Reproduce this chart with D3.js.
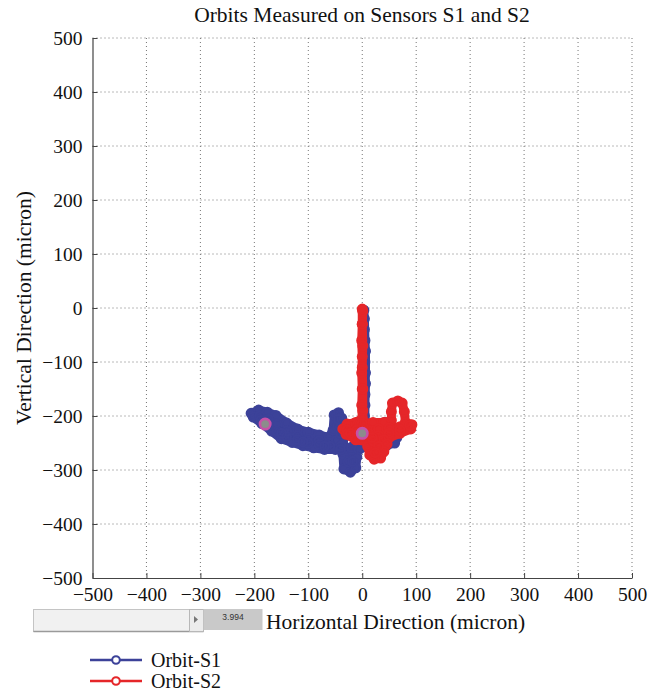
<!DOCTYPE html>
<html>
<head>
<meta charset="utf-8">
<script src="https://cdn.jsdelivr.net/npm/d3@7/dist/d3.min.js"></script>
<style>
  html, body { margin: 0; padding: 0; background: #ffffff; }
  svg { display: block; }
</style>
</head>
<body>
<svg id="chart" width="659" height="692"></svg>
<script>
// Axis settings
const xDomain = [-500, 500];
const yDomain = [-500, 500];
const tickValues = [-500, -400, -300, -200, -100, 0, 100, 200, 300, 400, 500];

// Orbit traced by sensor S1 (horizontal, vertical in micron)
const orbitS1 = [
  [-206,-195],[-192,-189],[-176,-193],[-160,-199],[-140,-213],[-120,-224],[-100,-230],
  [-80,-235],[-62,-240],[-54,-226],[-52,-198],[-44,-194],[-38,-204],[-34,-232],
  [-36,-270],[-34,-298],[-22,-304],[-12,-296],[-10,-276],[-28,-264],[-50,-262],
  [-70,-262],[-90,-259],[-110,-255],[-130,-249],[-150,-242],[-168,-228],[-186,-214],
  [-202,-202],[-190,-200],[-174,-206],[-158,-216],[-140,-228],[-120,-236],[-100,-242],
  [-80,-246],[-62,-250],[-48,-246],[-46,-220],[-44,-206],[-40,-232],[-36,-252],
  [-26,-285],[-18,-284],[-20,-262],[-40,-256],[-60,-256],[-80,-253],[-100,-250],
  [-120,-244],[-140,-238],[-158,-228],[-174,-218],[-188,-208],[-150,-232],[-110,-248],
  [-70,-256],[-40,-262],[-20,-258],[-6,-262],[8,-256],[20,-264],[32,-262],[46,-254],
  [60,-250],[64,-240],[52,-232],[42,-212],[36,-230],[20,-244],[8,-240],[5,-214],
  [5,-180],[6,-140],[5,-100],[5,-60],[4,-20],[3,-4],[4,-40],[6,-80],[6,-120],
  [5,-160],[4,-200],[0,-232]
];

// Orbit traced by sensor S2 (horizontal, vertical in micron)
const orbitS2 = [
  [0,-2],[0,-30],[-1,-60],[0,-90],[-1,-120],[0,-150],[-1,-180],[0,-205],
  [-12,-212],[-28,-215],[-36,-224],[-30,-234],[-12,-244],[10,-248],[30,-246],
  [50,-240],[70,-232],[90,-224],[92,-216],[80,-212],[78,-192],[74,-176],[66,-172],
  [56,-176],[54,-192],[54,-208],[40,-212],[20,-212],[0,-214],[-20,-216],[-28,-226],
  [-10,-226],[10,-226],[30,-224],[50,-222],[70,-220],[88,-218],[70,-226],[50,-232],
  [30,-236],[10,-236],[-10,-236],[-22,-232],[0,-242],[20,-242],[40,-244],[46,-252],
  [40,-266],[34,-278],[22,-280],[14,-272],[10,-256],[20,-246],[30,-256],[24,-268],
  [18,-240],[2,-222],[1,-190],[1,-150],[0,-110],[1,-70],[0,-30],[1,-6]
];

// Current-position markers for each sensor
const currentPos = [[-180,-215],[0,-232]];

// Legend entries
const seriesNames = ["Orbit-S1", "Orbit-S2"];
const seriesColors = ["#3c4299", "#e52629"];

const sliderValue = "3.994";

const svg = d3.select("#chart");
const serif = "'Liberation Serif', 'DejaVu Serif', serif";

const x = d3.scaleLinear().domain(xDomain).range([92.5, 632]);
const y = d3.scaleLinear().domain(yDomain).range([578, 38]);

// Grid
const grid = svg.append("g").attr("stroke", "#555").attr("stroke-width", 1)
  .attr("stroke-dasharray", "1,3").attr("opacity", 0.8);
tickValues.forEach(v => {
  if (v !== xDomain[0]) {
    grid.append("line").attr("x1", x(v)).attr("x2", x(v)).attr("y1", y(500)).attr("y2", y(-500));
  }
  if (v !== yDomain[0]) {
    grid.append("line").attr("x1", x(-500)).attr("x2", x(500)).attr("y1", y(v)).attr("y2", y(v));
  }
});

// Axes (ticks point inward)
const fmt = d => d < 0 ? "\u2212" + Math.abs(d) : d;
const xAxis = d3.axisBottom(x).tickValues(tickValues).tickSizeInner(-5).tickSizeOuter(0).tickFormat(fmt);
const yAxis = d3.axisLeft(y).tickValues(tickValues).tickSizeInner(-5).tickSizeOuter(0).tickFormat(fmt);

const gx = svg.append("g").attr("transform", `translate(0,${y(-500)})`).call(xAxis);
const gy = svg.append("g").attr("transform", `translate(${x(-500)},0)`).call(yAxis);
[gx, gy].forEach(g => {
  g.attr("font-family", serif).attr("font-size", 19.5);
  g.select(".domain").attr("stroke", "#444").attr("stroke-width", 1.2);
  g.selectAll(".tick line").attr("stroke", "#444");
  g.selectAll("text").attr("fill", "#111").attr("font-family", serif);
});
gx.selectAll("text").attr("y", 9);
gy.selectAll("text").attr("x", -10);

// Orbit drawing: thick trace with circle markers
const line = d3.line().x(d => x(d[0])).y(d => y(d[1])).curve(d3.curveLinear);
function drawOrbit(data, color) {
  const g = svg.append("g");
  g.append("path").datum(data).attr("d", line).attr("fill", "none")
    .attr("stroke", color).attr("stroke-width", 9)
    .attr("stroke-linejoin", "round").attr("stroke-linecap", "round");
  g.selectAll("circle").data(data).join("circle")
    .attr("cx", d => x(d[0])).attr("cy", d => y(d[1])).attr("r", 4.4)
    .attr("fill", "none").attr("stroke", color).attr("stroke-width", 2.2);
}
drawOrbit(orbitS1, seriesColors[0]);
drawOrbit(orbitS2, seriesColors[1]);

// Current-position markers
svg.append("g").selectAll("circle").data(currentPos).join("circle")
  .attr("cx", d => x(d[0])).attr("cy", d => y(d[1])).attr("r", 5.2)
  .attr("fill", "#8c8c8c").attr("stroke", "#c651a8").attr("stroke-width", 2.6);

// Title and axis labels
svg.append("text").attr("x", 362).attr("y", 22).attr("text-anchor", "middle")
  .attr("font-family", serif).attr("font-size", 21.5).attr("fill", "#111")
  .text("Orbits Measured on Sensors S1 and S2");

svg.append("text").attr("transform", `translate(31,${y(0)}) rotate(-90)`)
  .attr("text-anchor", "middle").attr("font-family", serif).attr("font-size", 21.5).attr("fill", "#111")
  .text("Vertical Direction (micron)");

svg.append("text").attr("x", 266).attr("y", 629)
  .attr("font-family", serif).attr("font-size", 21.5).attr("fill", "#111")
  .text("Horizontal Direction (micron)");

// Slider control
const sl = svg.append("g");
sl.append("rect").attr("x", 33.5).attr("y", 609.5).attr("width", 170).attr("height", 22)
  .attr("fill", "#f1f1f1").attr("stroke", "#c4c4c4");
sl.append("line").attr("x1", 33.5).attr("x2", 203.5).attr("y1", 631.5).attr("y2", 631.5)
  .attr("stroke", "#9a9a9a").attr("stroke-width", 1.5);
sl.append("rect").attr("x", 189.5).attr("y", 609.5).attr("width", 14).attr("height", 22)
  .attr("fill", "#ececec").attr("stroke", "#b8b8b8");
sl.append("path").attr("d", "M194,616 L198,619.5 L194,623 Z").attr("fill", "#777");
sl.append("rect").attr("x", 203.5).attr("y", 609).attr("width", 59).attr("height", 21)
  .attr("fill", "#c9c9c9");
sl.append("text").attr("x", 233).attr("y", 620).attr("text-anchor", "middle")
  .attr("font-family", "'Liberation Sans', Arial, sans-serif").attr("font-size", 8.5).attr("fill", "#333")
  .text(sliderValue);

// Legend
const lg = svg.append("g");
seriesNames.forEach((name, i) => {
  const ly = 660 + i * 21;
  lg.append("line").attr("x1", 90).attr("x2", 142).attr("y1", ly).attr("y2", ly)
    .attr("stroke", seriesColors[i]).attr("stroke-width", 2.5);
  lg.append("circle").attr("cx", 116).attr("cy", ly).attr("r", 3.8)
    .attr("fill", "#fff").attr("stroke", seriesColors[i]).attr("stroke-width", 2);
  lg.append("text").attr("x", 151).attr("y", ly + 7)
    .attr("font-family", serif).attr("font-size", 20).attr("fill", "#111").text(name);
});
</script>
</body>
</html>
